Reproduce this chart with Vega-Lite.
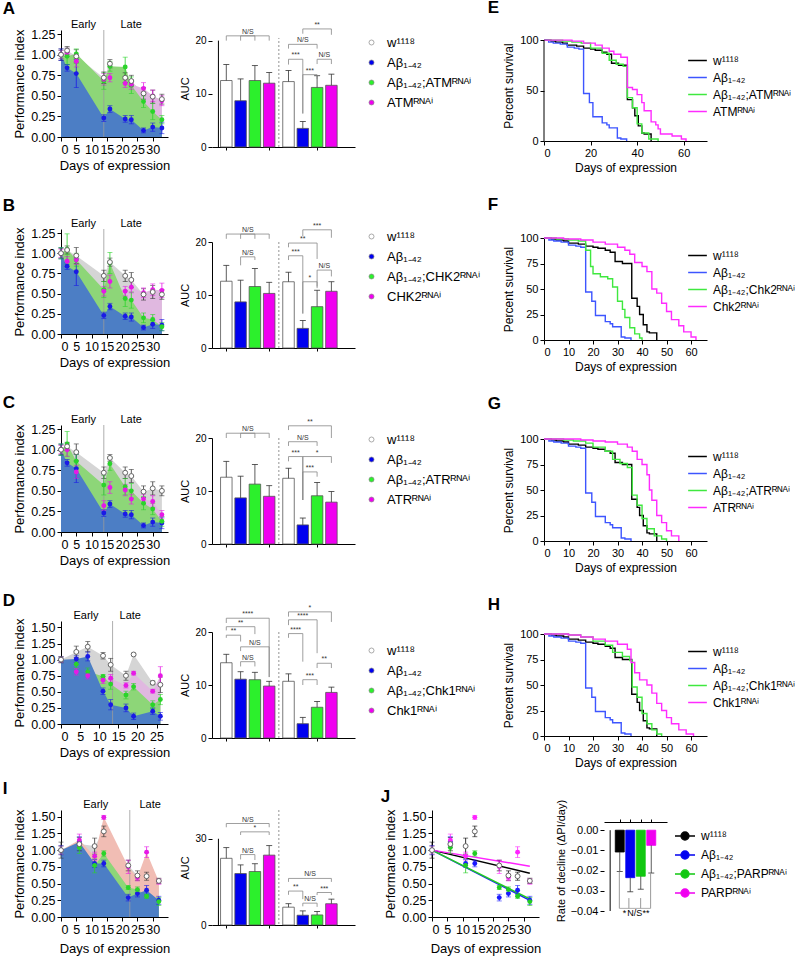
{
"$schema":"https://vega.github.io/schema/vega-lite/v6.json",
"background":"white",
"padding":{"left":2,"top":-1,"right":2,"bottom":2},
"datasets":{
"pi":[
{"p":"A","g":"a","d":0,"v":1,"e":0.07},{"p":"A","g":"a","d":2,"v":1.05,"e":0.05},{"p":"A","g":"a","d":5,"v":0.98,"e":0.08},{"p":"A","g":"a","d":14,"v":0.72,"e":0.07},{"p":"A","g":"a","d":16,"v":0.89,"e":0.05},{"p":"A","g":"a","d":21,"v":0.72,"e":0.06},{"p":"A","g":"a","d":23,"v":0.68,"e":0.07},{"p":"A","g":"a","d":27,"v":0.53,"e":0.07},{"p":"A","g":"a","d":30,"v":0.49,"e":0.08},{"p":"A","g":"a","d":33,"v":0.46,"e":0.06},
{"p":"A","g":"b","d":0,"v":1,"e":0.07},{"p":"A","g":"b","d":2,"v":0.84,"e":0.04},{"p":"A","g":"b","d":5,"v":0.77,"e":0.17},{"p":"A","g":"b","d":14,"v":0.23,"e":0.04},{"p":"A","g":"b","d":16,"v":0.34,"e":0.04},{"p":"A","g":"b","d":21,"v":0.22,"e":0.04},{"p":"A","g":"b","d":23,"v":0.21,"e":0.05},{"p":"A","g":"b","d":27,"v":0.08,"e":0.03},{"p":"A","g":"b","d":30,"v":0.12,"e":0.05},{"p":"A","g":"b","d":33,"v":0.11,"e":0.07},
{"p":"A","g":"c","d":0,"v":1,"e":0.05},{"p":"A","g":"c","d":2,"v":0.98,"e":0.1},{"p":"A","g":"c","d":5,"v":1.01,"e":0.06},{"p":"A","g":"c","d":14,"v":0.68,"e":0.1},{"p":"A","g":"c","d":16,"v":0.86,"e":0.06},{"p":"A","g":"c","d":21,"v":0.85,"e":0.12},{"p":"A","g":"c","d":23,"v":0.63,"e":0.1},{"p":"A","g":"c","d":27,"v":0.43,"e":0.07},{"p":"A","g":"c","d":30,"v":0.31,"e":0.1},{"p":"A","g":"c","d":33,"v":0.21,"e":0.05},
{"p":"A","g":"d","d":0,"v":1,"e":0.05},{"p":"A","g":"d","d":2,"v":1.03,"e":0.05},{"p":"A","g":"d","d":5,"v":0.92,"e":0.07},{"p":"A","g":"d","d":14,"v":0.7,"e":0.07},{"p":"A","g":"d","d":16,"v":0.72,"e":0.05},{"p":"A","g":"d","d":21,"v":0.65,"e":0.05},{"p":"A","g":"d","d":23,"v":0.64,"e":0.06},{"p":"A","g":"d","d":27,"v":0.59,"e":0.07},{"p":"A","g":"d","d":30,"v":0.5,"e":0.07},{"p":"A","g":"d","d":33,"v":0.44,"e":0.06},
{"p":"B","g":"a","d":0,"v":1,"e":0.06},{"p":"B","g":"a","d":2,"v":1.04,"e":0.05},{"p":"B","g":"a","d":5,"v":0.97,"e":0.1},{"p":"B","g":"a","d":14,"v":0.72,"e":0.07},{"p":"B","g":"a","d":16,"v":0.89,"e":0.05},{"p":"B","g":"a","d":21,"v":0.72,"e":0.07},{"p":"B","g":"a","d":23,"v":0.67,"e":0.09},{"p":"B","g":"a","d":27,"v":0.49,"e":0.07},{"p":"B","g":"a","d":30,"v":0.52,"e":0.08},{"p":"B","g":"a","d":33,"v":0.49,"e":0.06},
{"p":"B","g":"b","d":0,"v":1,"e":0.07},{"p":"B","g":"b","d":2,"v":0.84,"e":0.04},{"p":"B","g":"b","d":5,"v":0.77,"e":0.17},{"p":"B","g":"b","d":14,"v":0.23,"e":0.04},{"p":"B","g":"b","d":16,"v":0.34,"e":0.04},{"p":"B","g":"b","d":21,"v":0.22,"e":0.04},{"p":"B","g":"b","d":23,"v":0.21,"e":0.05},{"p":"B","g":"b","d":27,"v":0.08,"e":0.03},{"p":"B","g":"b","d":30,"v":0.12,"e":0.05},{"p":"B","g":"b","d":33,"v":0.11,"e":0.07},
{"p":"B","g":"c","d":0,"v":1,"e":0.07},{"p":"B","g":"c","d":2,"v":1.05,"e":0.19},{"p":"B","g":"c","d":5,"v":0.92,"e":0.08},{"p":"B","g":"c","d":14,"v":0.55,"e":0.1},{"p":"B","g":"c","d":16,"v":0.88,"e":0.13},{"p":"B","g":"c","d":21,"v":0.44,"e":0.1},{"p":"B","g":"c","d":23,"v":0.42,"e":0.1},{"p":"B","g":"c","d":27,"v":0.2,"e":0.06},{"p":"B","g":"c","d":30,"v":0.18,"e":0.06},{"p":"B","g":"c","d":33,"v":0.09,"e":0.05},
{"p":"B","g":"d","d":0,"v":1,"e":0.05},{"p":"B","g":"d","d":2,"v":0.9,"e":0.06},{"p":"B","g":"d","d":5,"v":0.92,"e":0.06},{"p":"B","g":"d","d":14,"v":0.53,"e":0.06},{"p":"B","g":"d","d":16,"v":0.65,"e":0.08},{"p":"B","g":"d","d":21,"v":0.53,"e":0.06},{"p":"B","g":"d","d":23,"v":0.58,"e":0.07},{"p":"B","g":"d","d":27,"v":0.51,"e":0.06},{"p":"B","g":"d","d":30,"v":0.55,"e":0.07},{"p":"B","g":"d","d":33,"v":0.54,"e":0.09},
{"p":"C","g":"a","d":0,"v":1,"e":0.06},{"p":"C","g":"a","d":2,"v":1.04,"e":0.05},{"p":"C","g":"a","d":5,"v":0.97,"e":0.1},{"p":"C","g":"a","d":14,"v":0.72,"e":0.07},{"p":"C","g":"a","d":16,"v":0.9,"e":0.04},{"p":"C","g":"a","d":21,"v":0.72,"e":0.07},{"p":"C","g":"a","d":23,"v":0.68,"e":0.08},{"p":"C","g":"a","d":27,"v":0.49,"e":0.07},{"p":"C","g":"a","d":30,"v":0.53,"e":0.08},{"p":"C","g":"a","d":33,"v":0.5,"e":0.06},
{"p":"C","g":"b","d":0,"v":1,"e":0.07},{"p":"C","g":"b","d":2,"v":0.84,"e":0.04},{"p":"C","g":"b","d":5,"v":0.77,"e":0.17},{"p":"C","g":"b","d":14,"v":0.23,"e":0.04},{"p":"C","g":"b","d":16,"v":0.34,"e":0.04},{"p":"C","g":"b","d":21,"v":0.22,"e":0.04},{"p":"C","g":"b","d":23,"v":0.21,"e":0.05},{"p":"C","g":"b","d":27,"v":0.08,"e":0.03},{"p":"C","g":"b","d":30,"v":0.12,"e":0.05},{"p":"C","g":"b","d":33,"v":0.11,"e":0.07},
{"p":"C","g":"c","d":0,"v":1,"e":0.07},{"p":"C","g":"c","d":2,"v":1.07,"e":0.15},{"p":"C","g":"c","d":5,"v":0.86,"e":0.08},{"p":"C","g":"c","d":14,"v":0.57,"e":0.12},{"p":"C","g":"c","d":16,"v":0.83,"e":0.08},{"p":"C","g":"c","d":21,"v":0.55,"e":0.1},{"p":"C","g":"c","d":23,"v":0.5,"e":0.09},{"p":"C","g":"c","d":27,"v":0.35,"e":0.08},{"p":"C","g":"c","d":30,"v":0.28,"e":0.07},{"p":"C","g":"c","d":33,"v":0.13,"e":0.06},
{"p":"C","g":"d","d":0,"v":1,"e":0.05},{"p":"C","g":"d","d":2,"v":1,"e":0.08},{"p":"C","g":"d","d":5,"v":0.73,"e":0.08},{"p":"C","g":"d","d":14,"v":0.32,"e":0.06},{"p":"C","g":"d","d":16,"v":0.54,"e":0.07},{"p":"C","g":"d","d":21,"v":0.51,"e":0.07},{"p":"C","g":"d","d":23,"v":0.4,"e":0.06},{"p":"C","g":"d","d":27,"v":0.4,"e":0.06},{"p":"C","g":"d","d":30,"v":0.37,"e":0.07},{"p":"C","g":"d","d":33,"v":0.21,"e":0.05},
{"p":"D","g":"a","d":0,"v":1,"e":0.05},{"p":"D","g":"a","d":4,"v":1.12,"e":0.09},{"p":"D","g":"a","d":7,"v":1.2,"e":0.08},{"p":"D","g":"a","d":11,"v":1.06,"e":0.05},{"p":"D","g":"a","d":13,"v":0.92,"e":0.1},{"p":"D","g":"a","d":17,"v":0.75,"e":0.07},{"p":"D","g":"a","d":19,"v":1.08,"e":0.02},{"p":"D","g":"a","d":24,"v":0.64,"e":0.03},{"p":"D","g":"a","d":26,"v":0.61,"e":0.12},
{"p":"D","g":"b","d":0,"v":1,"e":0.04},{"p":"D","g":"b","d":4,"v":1.01,"e":0.05},{"p":"D","g":"b","d":7,"v":1.05,"e":0.07},{"p":"D","g":"b","d":11,"v":0.51,"e":0.05},{"p":"D","g":"b","d":13,"v":0.3,"e":0.08},{"p":"D","g":"b","d":17,"v":0.25,"e":0.06},{"p":"D","g":"b","d":19,"v":0.12,"e":0.05},{"p":"D","g":"b","d":24,"v":0.2,"e":0.05},{"p":"D","g":"b","d":26,"v":0.12,"e":0.06},
{"p":"D","g":"c","d":0,"v":1,"e":0.04},{"p":"D","g":"c","d":4,"v":0.93,"e":0.06},{"p":"D","g":"c","d":7,"v":0.81,"e":0.06},{"p":"D","g":"c","d":11,"v":0.74,"e":0.03},{"p":"D","g":"c","d":13,"v":0.62,"e":0.08},{"p":"D","g":"c","d":17,"v":0.45,"e":0.06},{"p":"D","g":"c","d":19,"v":0.58,"e":0.05},{"p":"D","g":"c","d":24,"v":0.3,"e":0.06},{"p":"D","g":"c","d":26,"v":0.38,"e":0.08},
{"p":"D","g":"d","d":0,"v":1,"e":0.04},{"p":"D","g":"d","d":4,"v":0.81,"e":0.05},{"p":"D","g":"d","d":7,"v":0.75,"e":0.05},{"p":"D","g":"d","d":11,"v":0.68,"e":0.05},{"p":"D","g":"d","d":13,"v":0.71,"e":0.06},{"p":"D","g":"d","d":17,"v":0.6,"e":0.04},{"p":"D","g":"d","d":19,"v":0.79,"e":0.03},{"p":"D","g":"d","d":24,"v":0.51,"e":0.03},{"p":"D","g":"d","d":26,"v":0.75,"e":0.14},
{"p":"I","g":"a","d":0,"v":1,"e":0.12},{"p":"I","g":"a","d":6,"v":1.09,"e":0.1},{"p":"I","g":"a","d":11,"v":1.06,"e":0.12},{"p":"I","g":"a","d":14,"v":1.28,"e":0.08},{"p":"I","g":"a","d":22,"v":0.77,"e":0.08},{"p":"I","g":"a","d":25,"v":0.62,"e":0.07},{"p":"I","g":"a","d":28,"v":0.61,"e":0.06},{"p":"I","g":"a","d":32,"v":0.54,"e":0.04},
{"p":"I","g":"b","d":0,"v":1,"e":0.07},{"p":"I","g":"b","d":6,"v":1.12,"e":0.08},{"p":"I","g":"b","d":11,"v":0.8,"e":0.06},{"p":"I","g":"b","d":14,"v":0.8,"e":0.05},{"p":"I","g":"b","d":22,"v":0.29,"e":0.05},{"p":"I","g":"b","d":25,"v":0.35,"e":0.05},{"p":"I","g":"b","d":28,"v":0.4,"e":0.07},{"p":"I","g":"b","d":32,"v":0.25,"e":0.06},
{"p":"I","g":"c","d":0,"v":1,"e":0.06},{"p":"I","g":"c","d":6,"v":1.04,"e":0.09},{"p":"I","g":"c","d":11,"v":0.77,"e":0.11},{"p":"I","g":"c","d":14,"v":0.95,"e":0.04},{"p":"I","g":"c","d":22,"v":0.44,"e":0.03},{"p":"I","g":"c","d":25,"v":0.41,"e":0.04},{"p":"I","g":"c","d":28,"v":0.31,"e":0.03},{"p":"I","g":"c","d":32,"v":0.23,"e":0.06},
{"p":"I","g":"d","d":0,"v":1,"e":0.06},{"p":"I","g":"d","d":6,"v":1.15,"e":0.09},{"p":"I","g":"d","d":11,"v":0.91,"e":0.06},{"p":"I","g":"d","d":14,"v":1.49,"e":0.03},{"p":"I","g":"d","d":22,"v":0.75,"e":0.1},{"p":"I","g":"d","d":25,"v":0.59,"e":0.05},{"p":"I","g":"d","d":28,"v":0.97,"e":0.08},{"p":"I","g":"d","d":32,"v":0.53,"e":0.04}
],
"auc":[
{"p":"A","g":"a","x":1,"v":12.5,"hi":15.5},{"p":"A","g":"b","x":2,"v":8.7,"hi":12.8},{"p":"A","g":"c","x":3,"v":12.5,"hi":15.3},{"p":"A","g":"d","x":4,"v":12,"hi":14},{"p":"A","g":"a","x":5.35,"v":12.3,"hi":14.4},{"p":"A","g":"b","x":6.35,"v":3.5,"hi":4.8},{"p":"A","g":"c","x":7.35,"v":11.2,"hi":13.4},{"p":"A","g":"d","x":8.35,"v":11.6,"hi":13.7},
{"p":"B","g":"a","x":1,"v":12.6,"hi":15.6},{"p":"B","g":"b","x":2,"v":8.7,"hi":12.8},{"p":"B","g":"c","x":3,"v":11.6,"hi":15},{"p":"B","g":"d","x":4,"v":10.3,"hi":12.4},{"p":"B","g":"a","x":5.35,"v":12.5,"hi":14.3},{"p":"B","g":"b","x":6.35,"v":3.7,"hi":5.2},{"p":"B","g":"c","x":7.35,"v":7.8,"hi":10.9},{"p":"B","g":"d","x":8.35,"v":10.7,"hi":12.5},
{"p":"C","g":"a","x":1,"v":12.6,"hi":15.6},{"p":"C","g":"b","x":2,"v":8.7,"hi":12.8},{"p":"C","g":"c","x":3,"v":11.3,"hi":15},{"p":"C","g":"d","x":4,"v":9,"hi":11},{"p":"C","g":"a","x":5.35,"v":12.4,"hi":14.3},{"p":"C","g":"b","x":6.35,"v":3.6,"hi":4.9},{"p":"C","g":"c","x":7.35,"v":9.1,"hi":11.6},{"p":"C","g":"d","x":8.35,"v":7.9,"hi":9.9},
{"p":"D","g":"a","x":1,"v":14.2,"hi":15.8},{"p":"D","g":"b","x":2,"v":11.1,"hi":12.5},{"p":"D","g":"c","x":3,"v":11,"hi":12.4},{"p":"D","g":"d","x":4,"v":9.8,"hi":10.7},{"p":"D","g":"a","x":5.35,"v":10.7,"hi":12.1},{"p":"D","g":"b","x":6.35,"v":2.7,"hi":3.9},{"p":"D","g":"c","x":7.35,"v":5.8,"hi":6.9},{"p":"D","g":"d","x":8.35,"v":8.6,"hi":9.6},
{"p":"I","g":"a","x":1,"v":23.2,"hi":26.9},{"p":"I","g":"b","x":2,"v":17.9,"hi":20.9},{"p":"I","g":"c","x":3,"v":18.6,"hi":21.3},{"p":"I","g":"d","x":4,"v":24.3,"hi":27.6},{"p":"I","g":"a","x":5.35,"v":6.2,"hi":7.4},{"p":"I","g":"b","x":6.35,"v":3.4,"hi":4.9},{"p":"I","g":"c","x":7.35,"v":3.5,"hi":4.7},{"p":"I","g":"d","x":8.35,"v":7.4,"hi":9}
],
"br":[
{"p":"A","x1":1,"x2":4,"xm":2.5,"y":20.9,"l1":20,"l2":20,"t":"N/S"},{"p":"A","x1":2,"x2":3,"xm":2.5,"y":20.9,"l1":20,"l2":20,"t":""},{"p":"A","x1":6.35,"x2":8.35,"xm":7.35,"y":22.2,"l1":21.3,"l2":21.1,"t":"**"},{"p":"A","x1":5.35,"x2":7.35,"xm":6.35,"y":19.3,"l1":18.5,"l2":18.5,"t":"N/S"},{"p":"A","x1":5.35,"x2":6.35,"xm":5.85,"y":16.5,"l1":15.5,"l2":6.3,"t":"***"},{"p":"A","x1":7.35,"x2":8.35,"xm":7.85,"y":16.5,"l1":15.6,"l2":15.6,"t":"N/S"},{"p":"A","x1":6.35,"x2":7.35,"xm":6.85,"y":13.6,"l1":6.3,"l2":12.8,"t":"***"},
{"p":"B","x1":1,"x2":4,"xm":2.5,"y":21.5,"l1":20.6,"l2":20.6,"t":"N/S"},{"p":"B","x1":2,"x2":3,"xm":2.5,"y":21.5,"l1":20.6,"l2":20.6,"t":""},{"p":"B","x1":2,"x2":3,"xm":2.5,"y":17.2,"l1":15.6,"l2":16.6,"t":"N/S"},{"p":"B","x1":6.35,"x2":8.35,"xm":7.35,"y":22.3,"l1":21.1,"l2":20.8,"t":"***"},{"p":"B","x1":5.35,"x2":7.35,"xm":6.35,"y":19.8,"l1":19,"l2":16.8,"t":"**"},{"p":"B","x1":5.35,"x2":6.35,"xm":5.85,"y":17.4,"l1":16.6,"l2":6.5,"t":"***"},{"p":"B","x1":6.35,"x2":7.35,"xm":6.85,"y":12.5,"l1":6.5,"l2":11.6,"t":"*"},{"p":"B","x1":7.35,"x2":8.35,"xm":7.85,"y":14.7,"l1":11.3,"l2":13.5,"t":"N/S"},
{"p":"C","x1":1,"x2":4,"xm":2.5,"y":20.9,"l1":20,"l2":20,"t":"N/S"},{"p":"C","x1":2,"x2":3,"xm":2.5,"y":20.9,"l1":20,"l2":20,"t":""},{"p":"C","x1":5.35,"x2":8.35,"xm":6.85,"y":22.3,"l1":21.5,"l2":20,"t":"**"},{"p":"C","x1":5.35,"x2":7.35,"xm":6.35,"y":19.3,"l1":18.5,"l2":18.5,"t":"N/S"},{"p":"C","x1":5.35,"x2":6.35,"xm":5.85,"y":16.5,"l1":15.6,"l2":8.3,"t":"***"},{"p":"C","x1":6.35,"x2":8.35,"xm":7.35,"y":16.5,"l1":8.3,"l2":15.3,"t":"*"},{"p":"C","x1":6.35,"x2":7.35,"xm":6.85,"y":13.6,"l1":8.3,"l2":12.7,"t":"***"},
{"p":"D","x1":1,"x2":4,"xm":2.5,"y":22.6,"l1":21.7,"l2":11.5,"t":"****"},{"p":"D","x1":1,"x2":3,"xm":2,"y":21,"l1":20.3,"l2":19.6,"t":"**"},{"p":"D","x1":1,"x2":2,"xm":1.5,"y":19.4,"l1":18.9,"l2":18.2,"t":"**"},{"p":"D","x1":2,"x2":4,"xm":3,"y":17.2,"l1":16.4,"l2":11.5,"t":"N/S"},{"p":"D","x1":2,"x2":3,"xm":2.5,"y":14.4,"l1":13.5,"l2":13.5,"t":"N/S"},{"p":"D","x1":5.35,"x2":8.35,"xm":6.85,"y":23.8,"l1":22.9,"l2":21.9,"t":"*"},{"p":"D","x1":5.35,"x2":7.35,"xm":6.35,"y":22.3,"l1":21.3,"l2":16,"t":"****"},{"p":"D","x1":5.35,"x2":6.35,"xm":5.85,"y":19.7,"l1":18.9,"l2":14.4,"t":"****"},{"p":"D","x1":7.35,"x2":8.35,"xm":7.85,"y":14.1,"l1":13.2,"l2":13.2,"t":"**"},{"p":"D","x1":6.35,"x2":7.35,"xm":6.85,"y":11,"l1":10,"l2":10,"t":"***"},
{"p":"I","x1":1,"x2":4,"xm":2.5,"y":35.3,"l1":34,"l2":34,"t":"N/S"},{"p":"I","x1":2,"x2":4,"xm":3,"y":32.4,"l1":31.3,"l2":31.3,"t":"*"},{"p":"I","x1":2,"x2":3,"xm":2.5,"y":24.5,"l1":22.8,"l2":22.6,"t":"N/S"},{"p":"I","x1":5.35,"x2":8.35,"xm":6.85,"y":16.2,"l1":15,"l2":15,"t":"N/S"},{"p":"I","x1":5.35,"x2":6.35,"xm":5.85,"y":11.8,"l1":10.5,"l2":9,"t":"**"},{"p":"I","x1":6.35,"x2":7.35,"xm":6.85,"y":7.6,"l1":6.5,"l2":6.3,"t":"N/S"},{"p":"I","x1":7.35,"x2":8.35,"xm":7.85,"y":11.3,"l1":10.4,"l2":10.4,"t":"***"}
],
"sv":[
{"p":"ctl","g":"a","d":0,"s":100},{"p":"ctl","g":"a","d":3,"s":99},{"p":"ctl","g":"a","d":5,"s":98},{"p":"ctl","g":"a","d":8,"s":97},{"p":"ctl","g":"a","d":10,"s":95},{"p":"ctl","g":"a","d":14,"s":94},{"p":"ctl","g":"a","d":17,"s":92},{"p":"ctl","g":"a","d":20,"s":91},{"p":"ctl","g":"a","d":22,"s":90},{"p":"ctl","g":"a","d":25,"s":88},{"p":"ctl","g":"a","d":27,"s":86},{"p":"ctl","g":"a","d":29,"s":77},{"p":"ctl","g":"a","d":32,"s":75},{"p":"ctl","g":"a","d":35.8,"s":41},{"p":"ctl","g":"a","d":38,"s":33},{"p":"ctl","g":"a","d":39,"s":25},{"p":"ctl","g":"a","d":40.5,"s":15},{"p":"ctl","g":"a","d":42,"s":8},{"p":"ctl","g":"a","d":43,"s":7},{"p":"ctl","g":"a","d":46,"s":0},
{"p":"ctl","g":"b","d":0,"s":100},{"p":"ctl","g":"b","d":2,"s":98},{"p":"ctl","g":"b","d":4,"s":97},{"p":"ctl","g":"b","d":7,"s":96},{"p":"ctl","g":"b","d":10,"s":93},{"p":"ctl","g":"b","d":13,"s":92},{"p":"ctl","g":"b","d":15,"s":91},{"p":"ctl","g":"b","d":17,"s":47},{"p":"ctl","g":"b","d":19.5,"s":38},{"p":"ctl","g":"b","d":21,"s":24},{"p":"ctl","g":"b","d":25,"s":18},{"p":"ctl","g":"b","d":27,"s":16},{"p":"ctl","g":"b","d":28,"s":13},{"p":"ctl","g":"b","d":31.5,"s":3},{"p":"ctl","g":"b","d":33,"s":2},{"p":"ctl","g":"b","d":35.5,"s":0},
{"p":"E","g":"c","d":0,"s":100},{"p":"E","g":"c","d":8,"s":99},{"p":"E","g":"c","d":12,"s":98},{"p":"E","g":"c","d":16,"s":97},{"p":"E","g":"c","d":20,"s":92},{"p":"E","g":"c","d":25,"s":87},{"p":"E","g":"c","d":28,"s":80},{"p":"E","g":"c","d":31,"s":76},{"p":"E","g":"c","d":34,"s":74},{"p":"E","g":"c","d":35.8,"s":43},{"p":"E","g":"c","d":38,"s":33},{"p":"E","g":"c","d":40,"s":17},{"p":"E","g":"c","d":42,"s":8},{"p":"E","g":"c","d":45,"s":2},{"p":"E","g":"c","d":49,"s":0},
{"p":"E","g":"d","d":0,"s":100},{"p":"E","g":"d","d":12,"s":99},{"p":"E","g":"d","d":17,"s":97},{"p":"E","g":"d","d":22,"s":95},{"p":"E","g":"d","d":25,"s":92},{"p":"E","g":"d","d":28,"s":89},{"p":"E","g":"d","d":30,"s":86},{"p":"E","g":"d","d":33,"s":83},{"p":"E","g":"d","d":35.8,"s":53},{"p":"E","g":"d","d":38,"s":51},{"p":"E","g":"d","d":40,"s":46},{"p":"E","g":"d","d":42,"s":38},{"p":"E","g":"d","d":43,"s":30},{"p":"E","g":"d","d":46,"s":19},{"p":"E","g":"d","d":48,"s":16},{"p":"E","g":"d","d":49,"s":12},{"p":"E","g":"d","d":50,"s":7},{"p":"E","g":"d","d":55,"s":5},{"p":"E","g":"d","d":59,"s":2},{"p":"E","g":"d","d":61,"s":0},
{"p":"F","g":"c","d":0,"s":100},{"p":"F","g":"c","d":5,"s":99},{"p":"F","g":"c","d":10,"s":98},{"p":"F","g":"c","d":14,"s":97},{"p":"F","g":"c","d":17,"s":88},{"p":"F","g":"c","d":19,"s":72},{"p":"F","g":"c","d":20,"s":65},{"p":"F","g":"c","d":23,"s":62},{"p":"F","g":"c","d":26,"s":60},{"p":"F","g":"c","d":28,"s":52},{"p":"F","g":"c","d":30,"s":38},{"p":"F","g":"c","d":32,"s":30},{"p":"F","g":"c","d":33,"s":22},{"p":"F","g":"c","d":35,"s":12},{"p":"F","g":"c","d":37,"s":6},{"p":"F","g":"c","d":39,"s":2},{"p":"F","g":"c","d":40,"s":0},
{"p":"F","g":"d","d":0,"s":100},{"p":"F","g":"d","d":8,"s":99},{"p":"F","g":"d","d":15,"s":98},{"p":"F","g":"d","d":20,"s":96},{"p":"F","g":"d","d":25,"s":94},{"p":"F","g":"d","d":30,"s":91},{"p":"F","g":"d","d":33,"s":88},{"p":"F","g":"d","d":35,"s":84},{"p":"F","g":"d","d":37,"s":76},{"p":"F","g":"d","d":40,"s":72},{"p":"F","g":"d","d":42,"s":67},{"p":"F","g":"d","d":44,"s":50},{"p":"F","g":"d","d":46,"s":46},{"p":"F","g":"d","d":48,"s":36},{"p":"F","g":"d","d":50,"s":28},{"p":"F","g":"d","d":52,"s":20},{"p":"F","g":"d","d":55,"s":14},{"p":"F","g":"d","d":57,"s":8},{"p":"F","g":"d","d":60,"s":3},{"p":"F","g":"d","d":62,"s":0},
{"p":"G","g":"c","d":0,"s":100},{"p":"G","g":"c","d":8,"s":99},{"p":"G","g":"c","d":12,"s":98},{"p":"G","g":"c","d":17,"s":96},{"p":"G","g":"c","d":20,"s":92},{"p":"G","g":"c","d":25,"s":88},{"p":"G","g":"c","d":28,"s":80},{"p":"G","g":"c","d":31,"s":76},{"p":"G","g":"c","d":34,"s":72},{"p":"G","g":"c","d":36,"s":45},{"p":"G","g":"c","d":38,"s":35},{"p":"G","g":"c","d":40,"s":22},{"p":"G","g":"c","d":42,"s":12},{"p":"G","g":"c","d":45,"s":5},{"p":"G","g":"c","d":48,"s":2},{"p":"G","g":"c","d":50,"s":0},
{"p":"G","g":"d","d":0,"s":100},{"p":"G","g":"d","d":15,"s":99},{"p":"G","g":"d","d":20,"s":98},{"p":"G","g":"d","d":25,"s":97},{"p":"G","g":"d","d":30,"s":95},{"p":"G","g":"d","d":34,"s":92},{"p":"G","g":"d","d":36,"s":88},{"p":"G","g":"d","d":38,"s":80},{"p":"G","g":"d","d":40,"s":75},{"p":"G","g":"d","d":42,"s":65},{"p":"G","g":"d","d":43,"s":50},{"p":"G","g":"d","d":44,"s":40},{"p":"G","g":"d","d":46,"s":25},{"p":"G","g":"d","d":48,"s":18},{"p":"G","g":"d","d":50,"s":10},{"p":"G","g":"d","d":52,"s":5},{"p":"G","g":"d","d":55,"s":0},
{"p":"H","g":"c","d":0,"s":100},{"p":"H","g":"c","d":10,"s":99},{"p":"H","g":"c","d":15,"s":97},{"p":"H","g":"c","d":20,"s":93},{"p":"H","g":"c","d":25,"s":89},{"p":"H","g":"c","d":28,"s":82},{"p":"H","g":"c","d":32,"s":78},{"p":"H","g":"c","d":35,"s":74},{"p":"H","g":"c","d":36,"s":48},{"p":"H","g":"c","d":38,"s":38},{"p":"H","g":"c","d":40,"s":22},{"p":"H","g":"c","d":42,"s":12},{"p":"H","g":"c","d":44,"s":6},{"p":"H","g":"c","d":46,"s":2},{"p":"H","g":"c","d":48,"s":0},
{"p":"H","g":"d","d":0,"s":100},{"p":"H","g":"d","d":10,"s":99},{"p":"H","g":"d","d":15,"s":97},{"p":"H","g":"d","d":20,"s":95},{"p":"H","g":"d","d":25,"s":93},{"p":"H","g":"d","d":30,"s":90},{"p":"H","g":"d","d":34,"s":85},{"p":"H","g":"d","d":35.5,"s":72},{"p":"H","g":"d","d":37,"s":62},{"p":"H","g":"d","d":39,"s":55},{"p":"H","g":"d","d":42,"s":50},{"p":"H","g":"d","d":44,"s":42},{"p":"H","g":"d","d":46,"s":32},{"p":"H","g":"d","d":48,"s":25},{"p":"H","g":"d","d":50,"s":18},{"p":"H","g":"d","d":52,"s":12},{"p":"H","g":"d","d":55,"s":6},{"p":"H","g":"d","d":58,"s":2},{"p":"H","g":"d","d":61,"s":0}
],
"reg":[{"g":"a","d":0,"v":1},{"g":"a","d":32,"v":0.655},{"g":"b","d":0,"v":1},{"g":"b","d":32,"v":0.248},{"g":"c","d":0,"v":1},{"g":"c","d":32,"v":0.27},{"g":"d","d":0,"v":1},{"g":"d","d":32,"v":0.76}],
"rate":[{"g":"a","x":1,"v":-0.0108,"lo":-0.0205},{"g":"b","x":2,"v":-0.0235,"lo":-0.0305},{"g":"c","x":3,"v":-0.0228,"lo":-0.0292},{"g":"d","x":4,"v":-0.0075,"lo":-0.0212}]
},
"resolve":{"scale":{"color":"independent","fill":"independent","stroke":"independent"}},
"vconcat":[
{"resolve":{"scale":{"color":"independent","fill":"independent","stroke":"independent"}},"hconcat":[
 {"resolve":{"scale":{"color":"independent","fill":"independent","stroke":"independent"}},"hconcat":[
  {"resolve":{"scale":{"color":"independent","fill":"independent","stroke":"independent"}},"vconcat":[
   {"width":107,"height":107,"title":{"text":"A","offset":0,"dx":-11},"data":{"name":"pi"},"resolve":{"axis":{"x":"independent","y":"independent"}},"layer":[
    {"transform":[{"filter":"datum.p==='A'&&datum.g==='a'"}],"mark":{"type":"area","color":"#d5d5d5","opacity":1},"encoding":{"x":{"field":"d","type":"quantitative","scale":{"domain":[0,33.5]},"axis":{"values":[0,5,10,15,20,25,30],"title":"Days of expression","labelOverlap":false}},"y":{"field":"v","type":"quantitative","scale":{"domain":[0,1.25]},"axis":{"values":[0,0.25,0.5,0.75,1,1.25],"format":".2f","title":"Performance index","labelOverlap":false}}}},
    {"transform":[{"filter":"datum.p==='A'&&datum.g==='d'"}],"mark":{"type":"area","color":"#e0b8e0","opacity":1},"encoding":{"x":{"field":"d","type":"quantitative","axis":null},"y":{"field":"v","type":"quantitative","axis":null}}},
    {"transform":[{"filter":"datum.p==='A'&&datum.g==='c'"}],"mark":{"type":"area","color":"#8dd678","opacity":1},"encoding":{"x":{"field":"d","type":"quantitative","axis":null},"y":{"field":"v","type":"quantitative","axis":null}}},
    {"transform":[{"filter":"datum.p==='A'&&datum.g==='b'"}],"mark":{"type":"area","color":"#4c7ec5","opacity":1},"encoding":{"x":{"field":"d","type":"quantitative","axis":null},"y":{"field":"v","type":"quantitative","axis":null}}},
    {"data":{"values":[{"d":14}]},"mark":{"type":"rule","color":"#9a9a9a","strokeWidth":0.8},"encoding":{"x":{"field":"d","type":"quantitative","axis":{"orient":"top","values":[7.2,22.8],"labelExpr":"datum.value<14?'Early':'Late'","domain":false,"ticks":false,"title":null,"labelFontSize":11,"labelPadding":1}}}},
    {"transform":[{"filter":"datum.p==='A'"}],"mark":{"type":"errorbar","ticks":true,"thickness":0.8},"encoding":{"x":{"field":"d","type":"quantitative","axis":null},"y":{"field":"v","type":"quantitative","axis":null},"yError":{"field":"e"},"color":{"field":"g","type":"nominal","scale":{"domain":["a","b","c","d"],"range":["#333333","#1a1ae6","#2ad42a","#e619e6"]},"legend":null}}},
    {"transform":[{"filter":"datum.p==='A'&&datum.g!=='a'"}],"mark":{"type":"point","filled":true,"size":24,"opacity":1},"encoding":{"x":{"field":"d","type":"quantitative","axis":null},"y":{"field":"v","type":"quantitative","axis":null},"color":{"field":"g","type":"nominal","legend":null}}},
    {"transform":[{"filter":"datum.p==='A'&&datum.g==='a'"}],"mark":{"type":"point","filled":true,"fill":"#ffffff","stroke":"#666666","strokeWidth":1,"size":24,"opacity":1},"encoding":{"x":{"field":"d","type":"quantitative","axis":null},"y":{"field":"v","type":"quantitative","axis":null}}}
   ]},
   {"width":107,"height":105,"title":{"text":"B","offset":2,"dx":-11},"data":{"name":"pi"},"resolve":{"axis":{"x":"independent","y":"independent"}},"layer":[
    {"transform":[{"filter":"datum.p==='B'&&datum.g==='a'"}],"mark":{"type":"area","color":"#d5d5d5","opacity":1},"encoding":{"x":{"field":"d","type":"quantitative","scale":{"domain":[0,33.5]},"axis":{"values":[0,5,10,15,20,25,30],"title":"Days of expression","labelOverlap":false}},"y":{"field":"v","type":"quantitative","scale":{"domain":[0,1.25]},"axis":{"values":[0,0.25,0.5,0.75,1,1.25],"format":".2f","title":"Performance index","labelOverlap":false}}}},
    {"transform":[{"filter":"datum.p==='B'&&datum.g==='d'"}],"mark":{"type":"area","color":"#e0b8e0","opacity":1},"encoding":{"x":{"field":"d","type":"quantitative","axis":null},"y":{"field":"v","type":"quantitative","axis":null}}},
    {"transform":[{"filter":"datum.p==='B'&&datum.g==='c'"}],"mark":{"type":"area","color":"#8dd678","opacity":1},"encoding":{"x":{"field":"d","type":"quantitative","axis":null},"y":{"field":"v","type":"quantitative","axis":null}}},
    {"transform":[{"filter":"datum.p==='B'&&datum.g==='b'"}],"mark":{"type":"area","color":"#4c7ec5","opacity":1},"encoding":{"x":{"field":"d","type":"quantitative","axis":null},"y":{"field":"v","type":"quantitative","axis":null}}},
    {"data":{"values":[{"d":14}]},"mark":{"type":"rule","color":"#9a9a9a","strokeWidth":0.8},"encoding":{"x":{"field":"d","type":"quantitative","axis":{"orient":"top","values":[7.2,22.8],"labelExpr":"datum.value<14?'Early':'Late'","domain":false,"ticks":false,"title":null,"labelFontSize":11,"labelPadding":1}}}},
    {"transform":[{"filter":"datum.p==='B'"}],"mark":{"type":"errorbar","ticks":true,"thickness":0.8},"encoding":{"x":{"field":"d","type":"quantitative","axis":null},"y":{"field":"v","type":"quantitative","axis":null},"yError":{"field":"e"},"color":{"field":"g","type":"nominal","scale":{"domain":["a","b","c","d"],"range":["#333333","#1a1ae6","#2ad42a","#e619e6"]},"legend":null}}},
    {"transform":[{"filter":"datum.p==='B'&&datum.g!=='a'"}],"mark":{"type":"point","filled":true,"size":24,"opacity":1},"encoding":{"x":{"field":"d","type":"quantitative","axis":null},"y":{"field":"v","type":"quantitative","axis":null},"color":{"field":"g","type":"nominal","legend":null}}},
    {"transform":[{"filter":"datum.p==='B'&&datum.g==='a'"}],"mark":{"type":"point","filled":true,"fill":"#ffffff","stroke":"#666666","strokeWidth":1,"size":24,"opacity":1},"encoding":{"x":{"field":"d","type":"quantitative","axis":null},"y":{"field":"v","type":"quantitative","axis":null}}}
   ]},
   {"width":107,"height":107,"title":{"text":"C","offset":1,"dx":-11},"data":{"name":"pi"},"resolve":{"axis":{"x":"independent","y":"independent"}},"layer":[
    {"transform":[{"filter":"datum.p==='C'&&datum.g==='a'"}],"mark":{"type":"area","color":"#d5d5d5","opacity":1},"encoding":{"x":{"field":"d","type":"quantitative","scale":{"domain":[0,33.5]},"axis":{"values":[0,5,10,15,20,25,30],"title":"Days of expression","labelOverlap":false}},"y":{"field":"v","type":"quantitative","scale":{"domain":[0,1.25]},"axis":{"values":[0,0.25,0.5,0.75,1,1.25],"format":".2f","title":"Performance index","labelOverlap":false}}}},
    {"transform":[{"filter":"datum.p==='C'&&datum.g==='d'"}],"mark":{"type":"area","color":"#e0b8e0","opacity":1},"encoding":{"x":{"field":"d","type":"quantitative","axis":null},"y":{"field":"v","type":"quantitative","axis":null}}},
    {"transform":[{"filter":"datum.p==='C'&&datum.g==='c'"}],"mark":{"type":"area","color":"#8dd678","opacity":1},"encoding":{"x":{"field":"d","type":"quantitative","axis":null},"y":{"field":"v","type":"quantitative","axis":null}}},
    {"transform":[{"filter":"datum.p==='C'&&datum.g==='b'"}],"mark":{"type":"area","color":"#4c7ec5","opacity":1},"encoding":{"x":{"field":"d","type":"quantitative","axis":null},"y":{"field":"v","type":"quantitative","axis":null}}},
    {"data":{"values":[{"d":14}]},"mark":{"type":"rule","color":"#9a9a9a","strokeWidth":0.8},"encoding":{"x":{"field":"d","type":"quantitative","axis":{"orient":"top","values":[7.2,22.8],"labelExpr":"datum.value<14?'Early':'Late'","domain":false,"ticks":false,"title":null,"labelFontSize":11,"labelPadding":1}}}},
    {"transform":[{"filter":"datum.p==='C'"}],"mark":{"type":"errorbar","ticks":true,"thickness":0.8},"encoding":{"x":{"field":"d","type":"quantitative","axis":null},"y":{"field":"v","type":"quantitative","axis":null},"yError":{"field":"e"},"color":{"field":"g","type":"nominal","scale":{"domain":["a","b","c","d"],"range":["#333333","#1a1ae6","#2ad42a","#e619e6"]},"legend":null}}},
    {"transform":[{"filter":"datum.p==='C'&&datum.g!=='a'"}],"mark":{"type":"point","filled":true,"size":24,"opacity":1},"encoding":{"x":{"field":"d","type":"quantitative","axis":null},"y":{"field":"v","type":"quantitative","axis":null},"color":{"field":"g","type":"nominal","legend":null}}},
    {"transform":[{"filter":"datum.p==='C'&&datum.g==='a'"}],"mark":{"type":"point","filled":true,"fill":"#ffffff","stroke":"#666666","strokeWidth":1,"size":24,"opacity":1},"encoding":{"x":{"field":"d","type":"quantitative","axis":null},"y":{"field":"v","type":"quantitative","axis":null}}}
   ]},
   {"width":107,"height":103,"title":{"text":"D","offset":-1,"dx":-11},"data":{"name":"pi"},"resolve":{"axis":{"x":"independent","y":"independent"}},"layer":[
    {"transform":[{"filter":"datum.p==='D'&&datum.g==='a'"}],"mark":{"type":"area","color":"#d5d5d5","opacity":1},"encoding":{"x":{"field":"d","type":"quantitative","scale":{"domain":[0,26.5]},"axis":{"values":[0,5,10,15,20,25],"title":"Days of expression","labelOverlap":false}},"y":{"field":"v","type":"quantitative","scale":{"domain":[0,1.5]},"axis":{"values":[0,0.25,0.5,0.75,1,1.25,1.5],"format":".2f","title":"Performance index","labelOverlap":false}}}},
    {"transform":[{"filter":"datum.p==='D'&&datum.g==='d'"}],"mark":{"type":"area","color":"#e0b8e0","opacity":1},"encoding":{"x":{"field":"d","type":"quantitative","axis":null},"y":{"field":"v","type":"quantitative","axis":null}}},
    {"transform":[{"filter":"datum.p==='D'&&datum.g==='c'"}],"mark":{"type":"area","color":"#8dd678","opacity":1},"encoding":{"x":{"field":"d","type":"quantitative","axis":null},"y":{"field":"v","type":"quantitative","axis":null}}},
    {"transform":[{"filter":"datum.p==='D'&&datum.g==='b'"}],"mark":{"type":"area","color":"#4c7ec5","opacity":1},"encoding":{"x":{"field":"d","type":"quantitative","axis":null},"y":{"field":"v","type":"quantitative","axis":null}}},
    {"data":{"values":[{"d":13.5}]},"mark":{"type":"rule","color":"#9a9a9a","strokeWidth":0.8},"encoding":{"x":{"field":"d","type":"quantitative","axis":{"orient":"top","values":[6.4,18],"labelExpr":"datum.value<13?'Early':'Late'","domain":false,"ticks":false,"title":null,"labelFontSize":11,"labelPadding":1}}}},
    {"transform":[{"filter":"datum.p==='D'"}],"mark":{"type":"errorbar","ticks":true,"thickness":0.8},"encoding":{"x":{"field":"d","type":"quantitative","axis":null},"y":{"field":"v","type":"quantitative","axis":null},"yError":{"field":"e"},"color":{"field":"g","type":"nominal","scale":{"domain":["a","b","c","d"],"range":["#333333","#1a1ae6","#2ad42a","#e619e6"]},"legend":null}}},
    {"transform":[{"filter":"datum.p==='D'&&datum.g!=='a'"}],"mark":{"type":"point","filled":true,"size":24,"opacity":1},"encoding":{"x":{"field":"d","type":"quantitative","axis":null},"y":{"field":"v","type":"quantitative","axis":null},"color":{"field":"g","type":"nominal","legend":null}}},
    {"transform":[{"filter":"datum.p==='D'&&datum.g==='a'"}],"mark":{"type":"point","filled":true,"fill":"#ffffff","stroke":"#666666","strokeWidth":1,"size":24,"opacity":1},"encoding":{"x":{"field":"d","type":"quantitative","axis":null},"y":{"field":"v","type":"quantitative","axis":null}}}
   ]}
  ],"spacing":24},
  {"resolve":{"scale":{"color":"independent","fill":"independent","stroke":"independent"}},"vconcat":[
   {"width":143,"height":117,"layer":[
    {"data":{"name":"auc"},"transform":[{"filter":"datum.p==='A'"}],"mark":{"type":"bar","width":11.5,"stroke":"#555555","strokeWidth":0.8,"opacity":1},"encoding":{"x":{"field":"x","type":"quantitative","scale":{"domain":[0.45,9.05]},"axis":{"values":[1,2,2.5,3,4,5.35,6.35,6.85,7.35,8.35],"labelExpr":"datum.value===2.5?'Early':datum.value===6.85?'Late':''","labelOverlap":false,"tickOpacity":{"condition":{"test":"datum.value===2.5||datum.value===6.85","value":0},"value":1},"title":null,"labelFontSize":11,"tickSize":3,"labelPadding":1}},"y":{"field":"v","type":"quantitative","scale":{"domain":[0,21.87]},"axis":{"values":[0,5,10,15,20],"title":"AUC","labelFontSize":10,"titleFontSize":11,"domain":false}},"fill":{"field":"g","type":"nominal","scale":{"domain":["a","b","c","d"],"range":["#ffffff","#0000f0","#2cf02c","#f000f0"]},"legend":{"orient":"none","legendX":153,"legendY":6,"title":null,"symbolType":"circle","symbolSize":25,"symbolStrokeColor":"#888888","symbolStrokeWidth":0.7,"labelFontSize":13,"rowPadding":6,"labelOffset":9,"labelExpr":"datum.value==='a'?'w¹¹¹⁸':datum.value==='b'?'Aβ₁₋₄₂':datum.value==='c'?'Aβ₁₋₄₂;ATMᴿᴺᴬⁱ':'ATMᴿᴺᴬⁱ'"}}}},
    {"data":{"values":[{"x":0.45,"y":0,"y2":20}]},"mark":{"type":"rule","color":"#000000","strokeWidth":1},"encoding":{"x":{"field":"x","type":"quantitative"},"y":{"field":"y","type":"quantitative"},"y2":{"field":"y2"}}},
    {"data":{"name":"auc"},"transform":[{"filter":"datum.p==='A'"}],"mark":{"type":"rule","color":"#333333","strokeWidth":0.8},"encoding":{"x":{"field":"x","type":"quantitative"},"y":{"field":"v","type":"quantitative"},"y2":{"field":"hi"}}},
    {"data":{"name":"auc"},"transform":[{"filter":"datum.p==='A'"}],"mark":{"type":"tick","orient":"horizontal","size":6,"thickness":0.8,"color":"#333333","opacity":1},"encoding":{"x":{"field":"x","type":"quantitative"},"y":{"field":"hi","type":"quantitative"}}},
    {"data":{"name":"br"},"transform":[{"filter":"datum.p==='A'"}],"mark":{"type":"rule","color":"#888888","strokeWidth":0.8},"encoding":{"x":{"field":"x1","type":"quantitative"},"x2":{"field":"x2"},"y":{"field":"y","type":"quantitative"}}},
    {"data":{"name":"br"},"transform":[{"filter":"datum.p==='A'"}],"mark":{"type":"rule","color":"#888888","strokeWidth":0.8},"encoding":{"x":{"field":"x1","type":"quantitative"},"y":{"field":"l1","type":"quantitative"},"y2":{"field":"y"}}},
    {"data":{"name":"br"},"transform":[{"filter":"datum.p==='A'"}],"mark":{"type":"rule","color":"#888888","strokeWidth":0.8},"encoding":{"x":{"field":"x2","type":"quantitative"},"y":{"field":"l2","type":"quantitative"},"y2":{"field":"y"}}},
    {"data":{"name":"br"},"transform":[{"filter":"datum.p==='A'"}],"mark":{"type":"text","fontSize":7,"dy":-4,"color":"#333333"},"encoding":{"x":{"field":"xm","type":"quantitative"},"y":{"field":"y","type":"quantitative"},"text":{"field":"t"}}},
    {"data":{"values":[{"x":4.675,"y":0,"y2":20.5}]},"mark":{"type":"rule","color":"#777777","strokeDash":[2,2],"strokeWidth":0.8},"encoding":{"x":{"field":"x","type":"quantitative"},"y":{"field":"y","type":"quantitative"},"y2":{"field":"y2"}}}
   ]},
   {"width":143,"height":106,"title":{"text":"B","color":"transparent","offset":11},"layer":[
    {"data":{"name":"auc"},"transform":[{"filter":"datum.p==='B'"}],"mark":{"type":"bar","width":11.5,"stroke":"#555555","strokeWidth":0.8,"opacity":1},"encoding":{"x":{"field":"x","type":"quantitative","scale":{"domain":[0.45,9.05]},"axis":{"values":[1,2,2.5,3,4,5.35,6.35,6.85,7.35,8.35],"labelExpr":"datum.value===2.5?'Early':datum.value===6.85?'Late':''","labelOverlap":false,"tickOpacity":{"condition":{"test":"datum.value===2.5||datum.value===6.85","value":0},"value":1},"title":null,"labelFontSize":11,"tickSize":3,"labelPadding":1}},"y":{"field":"v","type":"quantitative","scale":{"domain":[0,20]},"axis":{"values":[0,5,10,15,20],"title":"AUC","labelFontSize":10,"titleFontSize":11}},"fill":{"field":"g","type":"nominal","scale":{"domain":["a","b","c","d"],"range":["#ffffff","#0000f0","#2cf02c","#f000f0"]},"legend":{"orient":"none","legendX":153,"legendY":-12,"title":null,"symbolType":"circle","symbolSize":25,"symbolStrokeColor":"#888888","symbolStrokeWidth":0.7,"labelFontSize":13,"rowPadding":6,"labelOffset":9,"labelExpr":"datum.value==='a'?'w¹¹¹⁸':datum.value==='b'?'Aβ₁₋₄₂':datum.value==='c'?'Aβ₁₋₄₂;CHK2ᴿᴺᴬⁱ':'CHK2ᴿᴺᴬⁱ'"}}}},
    {"data":{"name":"auc"},"transform":[{"filter":"datum.p==='B'"}],"mark":{"type":"rule","color":"#333333","strokeWidth":0.8},"encoding":{"x":{"field":"x","type":"quantitative"},"y":{"field":"v","type":"quantitative"},"y2":{"field":"hi"}}},
    {"data":{"name":"auc"},"transform":[{"filter":"datum.p==='B'"}],"mark":{"type":"tick","orient":"horizontal","size":6,"thickness":0.8,"color":"#333333","opacity":1},"encoding":{"x":{"field":"x","type":"quantitative"},"y":{"field":"hi","type":"quantitative"}}},
    {"data":{"name":"br"},"transform":[{"filter":"datum.p==='B'"}],"mark":{"type":"rule","color":"#888888","strokeWidth":0.8},"encoding":{"x":{"field":"x1","type":"quantitative"},"x2":{"field":"x2"},"y":{"field":"y","type":"quantitative"}}},
    {"data":{"name":"br"},"transform":[{"filter":"datum.p==='B'"}],"mark":{"type":"rule","color":"#888888","strokeWidth":0.8},"encoding":{"x":{"field":"x1","type":"quantitative"},"y":{"field":"l1","type":"quantitative"},"y2":{"field":"y"}}},
    {"data":{"name":"br"},"transform":[{"filter":"datum.p==='B'"}],"mark":{"type":"rule","color":"#888888","strokeWidth":0.8},"encoding":{"x":{"field":"x2","type":"quantitative"},"y":{"field":"l2","type":"quantitative"},"y2":{"field":"y"}}},
    {"data":{"name":"br"},"transform":[{"filter":"datum.p==='B'"}],"mark":{"type":"text","fontSize":7,"dy":-4,"color":"#333333"},"encoding":{"x":{"field":"xm","type":"quantitative"},"y":{"field":"y","type":"quantitative"},"text":{"field":"t"}}},
    {"data":{"values":[{"x":4.675}]},"mark":{"type":"rule","color":"#777777","strokeDash":[2,2],"strokeWidth":0.8},"encoding":{"x":{"field":"x","type":"quantitative"}}}
   ]},
   {"width":143,"height":106,"title":{"text":"C","color":"transparent","offset":6},"layer":[
    {"data":{"name":"auc"},"transform":[{"filter":"datum.p==='C'"}],"mark":{"type":"bar","width":11.5,"stroke":"#555555","strokeWidth":0.8,"opacity":1},"encoding":{"x":{"field":"x","type":"quantitative","scale":{"domain":[0.45,9.05]},"axis":{"values":[1,2,2.5,3,4,5.35,6.35,6.85,7.35,8.35],"labelExpr":"datum.value===2.5?'Early':datum.value===6.85?'Late':''","labelOverlap":false,"tickOpacity":{"condition":{"test":"datum.value===2.5||datum.value===6.85","value":0},"value":1},"title":null,"labelFontSize":11,"tickSize":3,"labelPadding":1}},"y":{"field":"v","type":"quantitative","scale":{"domain":[0,20]},"axis":{"values":[0,5,10,15,20],"title":"AUC","labelFontSize":10,"titleFontSize":11}},"fill":{"field":"g","type":"nominal","scale":{"domain":["a","b","c","d"],"range":["#ffffff","#0000f0","#2cf02c","#f000f0"]},"legend":{"orient":"none","legendX":153,"legendY":-5,"title":null,"symbolType":"circle","symbolSize":25,"symbolStrokeColor":"#888888","symbolStrokeWidth":0.7,"labelFontSize":13,"rowPadding":6,"labelOffset":9,"labelExpr":"datum.value==='a'?'w¹¹¹⁸':datum.value==='b'?'Aβ₁₋₄₂':datum.value==='c'?'Aβ₁₋₄₂;ATRᴿᴺᴬⁱ':'ATRᴿᴺᴬⁱ'"}}}},
    {"data":{"name":"auc"},"transform":[{"filter":"datum.p==='C'"}],"mark":{"type":"rule","color":"#333333","strokeWidth":0.8},"encoding":{"x":{"field":"x","type":"quantitative"},"y":{"field":"v","type":"quantitative"},"y2":{"field":"hi"}}},
    {"data":{"name":"auc"},"transform":[{"filter":"datum.p==='C'"}],"mark":{"type":"tick","orient":"horizontal","size":6,"thickness":0.8,"color":"#333333","opacity":1},"encoding":{"x":{"field":"x","type":"quantitative"},"y":{"field":"hi","type":"quantitative"}}},
    {"data":{"name":"br"},"transform":[{"filter":"datum.p==='C'"}],"mark":{"type":"rule","color":"#888888","strokeWidth":0.8},"encoding":{"x":{"field":"x1","type":"quantitative"},"x2":{"field":"x2"},"y":{"field":"y","type":"quantitative"}}},
    {"data":{"name":"br"},"transform":[{"filter":"datum.p==='C'"}],"mark":{"type":"rule","color":"#888888","strokeWidth":0.8},"encoding":{"x":{"field":"x1","type":"quantitative"},"y":{"field":"l1","type":"quantitative"},"y2":{"field":"y"}}},
    {"data":{"name":"br"},"transform":[{"filter":"datum.p==='C'"}],"mark":{"type":"rule","color":"#888888","strokeWidth":0.8},"encoding":{"x":{"field":"x2","type":"quantitative"},"y":{"field":"l2","type":"quantitative"},"y2":{"field":"y"}}},
    {"data":{"name":"br"},"transform":[{"filter":"datum.p==='C'"}],"mark":{"type":"text","fontSize":7,"dy":-4,"color":"#333333"},"encoding":{"x":{"field":"xm","type":"quantitative"},"y":{"field":"y","type":"quantitative"},"text":{"field":"t"}}},
    {"data":{"values":[{"x":4.675}]},"mark":{"type":"rule","color":"#777777","strokeDash":[2,2],"strokeWidth":0.8},"encoding":{"x":{"field":"x","type":"quantitative"}}}
   ]},
   {"width":143,"height":106,"title":{"text":"D","color":"transparent","offset":-4},"layer":[
    {"data":{"name":"auc"},"transform":[{"filter":"datum.p==='D'"}],"mark":{"type":"bar","width":11.5,"stroke":"#555555","strokeWidth":0.8,"opacity":1},"encoding":{"x":{"field":"x","type":"quantitative","scale":{"domain":[0.45,9.05]},"axis":{"values":[1,2,2.5,3,4,5.35,6.35,6.85,7.35,8.35],"labelExpr":"datum.value===2.5?'Early':datum.value===6.85?'Late':''","labelOverlap":false,"tickOpacity":{"condition":{"test":"datum.value===2.5||datum.value===6.85","value":0},"value":1},"title":null,"labelFontSize":11,"tickSize":3,"labelPadding":1}},"y":{"field":"v","type":"quantitative","scale":{"domain":[0,20]},"axis":{"values":[0,5,10,15,20],"title":"AUC","labelFontSize":10,"titleFontSize":11}},"fill":{"field":"g","type":"nominal","scale":{"domain":["a","b","c","d"],"range":["#ffffff","#0000f0","#2cf02c","#f000f0"]},"legend":{"orient":"none","legendX":153,"legendY":12,"title":null,"symbolType":"circle","symbolSize":25,"symbolStrokeColor":"#888888","symbolStrokeWidth":0.7,"labelFontSize":13,"rowPadding":6,"labelOffset":9,"labelExpr":"datum.value==='a'?'w¹¹¹⁸':datum.value==='b'?'Aβ₁₋₄₂':datum.value==='c'?'Aβ₁₋₄₂;Chk1ᴿᴺᴬⁱ':'Chk1ᴿᴺᴬⁱ'"}}}},
    {"data":{"name":"auc"},"transform":[{"filter":"datum.p==='D'"}],"mark":{"type":"rule","color":"#333333","strokeWidth":0.8},"encoding":{"x":{"field":"x","type":"quantitative"},"y":{"field":"v","type":"quantitative"},"y2":{"field":"hi"}}},
    {"data":{"name":"auc"},"transform":[{"filter":"datum.p==='D'"}],"mark":{"type":"tick","orient":"horizontal","size":6,"thickness":0.8,"color":"#333333","opacity":1},"encoding":{"x":{"field":"x","type":"quantitative"},"y":{"field":"hi","type":"quantitative"}}},
    {"data":{"name":"br"},"transform":[{"filter":"datum.p==='D'"}],"mark":{"type":"rule","color":"#888888","strokeWidth":0.8},"encoding":{"x":{"field":"x1","type":"quantitative"},"x2":{"field":"x2"},"y":{"field":"y","type":"quantitative"}}},
    {"data":{"name":"br"},"transform":[{"filter":"datum.p==='D'"}],"mark":{"type":"rule","color":"#888888","strokeWidth":0.8},"encoding":{"x":{"field":"x1","type":"quantitative"},"y":{"field":"l1","type":"quantitative"},"y2":{"field":"y"}}},
    {"data":{"name":"br"},"transform":[{"filter":"datum.p==='D'"}],"mark":{"type":"rule","color":"#888888","strokeWidth":0.8},"encoding":{"x":{"field":"x2","type":"quantitative"},"y":{"field":"l2","type":"quantitative"},"y2":{"field":"y"}}},
    {"data":{"name":"br"},"transform":[{"filter":"datum.p==='D'"}],"mark":{"type":"text","fontSize":7,"dy":-4,"color":"#333333"},"encoding":{"x":{"field":"xm","type":"quantitative"},"y":{"field":"y","type":"quantitative"},"text":{"field":"t"}}},
    {"data":{"values":[{"x":4.675}]},"mark":{"type":"rule","color":"#777777","strokeDash":[2,2],"strokeWidth":0.8},"encoding":{"x":{"field":"x","type":"quantitative"}}}
   ]}
  ],"spacing":30}
 ],"spacing":9},
 {"resolve":{"scale":{"color":"independent","fill":"independent","stroke":"independent"}},"vconcat":[
  {"width":163,"height":111,"title":{"text":"E","offset":13,"dx":-15},"data":{"name":"sv"},"layer":[
   {"transform":[{"filter":"datum.p==='E'||datum.p==='ctl'"}],"mark":{"type":"line","interpolate":"step-after","strokeWidth":1.4},"encoding":{"x":{"field":"d","type":"quantitative","scale":{"domain":[0,66.5]},"axis":{"values":[0,10,20,30,40,50,60],"title":"Days of expression","labelFontSize":11,"titleFontSize":12,"labelOverlap":false}},"y":{"field":"s","type":"quantitative","scale":{"domain":[0,108.8]},"axis":{"values":[0,25,50,75,100],"title":"Percent survival","labelFontSize":11,"titleFontSize":12,"labelOverlap":false,"domain":false}},"color":{"field":"g","type":"nominal","scale":{"domain":["a","b","c","d"],"range":["#000000","#3d55ff","#3fe83f","#ff2bff"]},"legend":{"orient":"none","legendX":143,"legendY":20,"title":null,"symbolType":"stroke","symbolSize":350,"symbolStrokeWidth":1.5,"labelFontSize":12,"rowPadding":0,"labelOffset":5,"labelExpr":"datum.value==='a'?'w¹¹¹⁸':datum.value==='b'?'Aβ₁₋₄₂':datum.value==='c'?'Aβ₁₋₄₂;ATMᴿᴺᴬⁱ':'ATMᴿᴺᴬⁱ'"}}}},
   {"data":{"values":[{"d":0,"s":0,"s2":100}]},"mark":{"type":"rule","color":"#000000","strokeWidth":1},"encoding":{"x":{"field":"d","type":"quantitative"},"y":{"field":"s","type":"quantitative"},"y2":{"field":"s2"}}}
  ]},
  {"width":163,"height":102,"title":{"text":"F","offset":18,"dx":-15},"data":{"name":"sv"},"transform":[{"filter":"datum.p==='F'||datum.p==='ctl'"}],"mark":{"type":"line","interpolate":"step-after","strokeWidth":1.4},"encoding":{"x":{"field":"d","type":"quantitative","scale":{"domain":[0,66.5]},"axis":{"values":[0,10,20,30,40,50,60],"title":"Days of expression","labelFontSize":11,"titleFontSize":12,"labelOverlap":false}},"y":{"field":"s","type":"quantitative","scale":{"domain":[0,100]},"axis":{"values":[0,25,50,75,100],"title":"Percent survival","labelFontSize":11,"titleFontSize":12,"labelOverlap":false}},"color":{"field":"g","type":"nominal","scale":{"domain":["a","b","c","d"],"range":["#000000","#3d55ff","#3fe83f","#ff2bff"]},"legend":{"orient":"none","legendX":143,"legendY":7,"title":null,"symbolType":"stroke","symbolSize":350,"symbolStrokeWidth":1.5,"labelFontSize":12,"rowPadding":0,"labelOffset":5,"labelExpr":"datum.value==='a'?'w¹¹¹⁸':datum.value==='b'?'Aβ₁₋₄₂':datum.value==='c'?'Aβ₁₋₄₂;Chk2ᴿᴺᴬⁱ':'Chk2ᴿᴺᴬⁱ'"}}}},
  {"width":163,"height":102,"title":{"text":"G","offset":20,"dx":-15},"data":{"name":"sv"},"transform":[{"filter":"datum.p==='G'||datum.p==='ctl'"}],"mark":{"type":"line","interpolate":"step-after","strokeWidth":1.4},"encoding":{"x":{"field":"d","type":"quantitative","scale":{"domain":[0,66.5]},"axis":{"values":[0,10,20,30,40,50,60],"title":"Days of expression","labelFontSize":11,"titleFontSize":12,"labelOverlap":false}},"y":{"field":"s","type":"quantitative","scale":{"domain":[0,100]},"axis":{"values":[0,25,50,75,100],"title":"Percent survival","labelFontSize":11,"titleFontSize":12,"labelOverlap":false}},"color":{"field":"g","type":"nominal","scale":{"domain":["a","b","c","d"],"range":["#000000","#3d55ff","#3fe83f","#ff2bff"]},"legend":{"orient":"none","legendX":143,"legendY":7,"title":null,"symbolType":"stroke","symbolSize":350,"symbolStrokeWidth":1.5,"labelFontSize":12,"rowPadding":0,"labelOffset":5,"labelExpr":"datum.value==='a'?'w¹¹¹⁸':datum.value==='b'?'Aβ₁₋₄₂':datum.value==='c'?'Aβ₁₋₄₂;ATRᴿᴺᴬⁱ':'ATRᴿᴺᴬⁱ'"}}}},
  {"width":163,"height":102,"title":{"text":"H","offset":14,"dx":-15},"data":{"name":"sv"},"transform":[{"filter":"datum.p==='H'||datum.p==='ctl'"}],"mark":{"type":"line","interpolate":"step-after","strokeWidth":1.4},"encoding":{"x":{"field":"d","type":"quantitative","scale":{"domain":[0,66.5]},"axis":{"values":[0,10,20,30,40,50,60],"title":"Days of expression","labelFontSize":11,"titleFontSize":12,"labelOverlap":false}},"y":{"field":"s","type":"quantitative","scale":{"domain":[0,100]},"axis":{"values":[0,25,50,75,100],"title":"Percent survival","labelFontSize":11,"titleFontSize":12,"labelOverlap":false}},"color":{"field":"g","type":"nominal","scale":{"domain":["a","b","c","d"],"range":["#000000","#3d55ff","#3fe83f","#ff2bff"]},"legend":{"orient":"none","legendX":143,"legendY":7,"title":null,"symbolType":"stroke","symbolSize":350,"symbolStrokeWidth":1.5,"labelFontSize":12,"rowPadding":0,"labelOffset":5,"labelExpr":"datum.value==='a'?'w¹¹¹⁸':datum.value==='b'?'Aβ₁₋₄₂':datum.value==='c'?'Aβ₁₋₄₂;Chk1ᴿᴺᴬⁱ':'Chk1ᴿᴺᴬⁱ'"}}}}
 ],"spacing":23}
],"spacing":7},
{"resolve":{"scale":{"color":"independent","fill":"independent","stroke":"independent"}},"hconcat":[
 {"resolve":{"scale":{"color":"independent","fill":"independent","stroke":"independent"}},"hconcat":[
  {"width":107,"height":107,"title":{"text":"I","offset":0,"dx":-11},"data":{"name":"pi"},"resolve":{"axis":{"x":"independent","y":"independent"}},"layer":[
   {"transform":[{"filter":"datum.p==='I'&&datum.g==='a'"}],"mark":{"type":"area","color":"#d5d5d5","opacity":1},"encoding":{"x":{"field":"d","type":"quantitative","scale":{"domain":[0,33.5]},"axis":{"values":[0,5,10,15,20,25,30],"title":"Days of expression","labelOverlap":false,"titlePadding":7}},"y":{"field":"v","type":"quantitative","scale":{"domain":[0,1.5]},"axis":{"values":[0,0.25,0.5,0.75,1,1.25,1.5],"format":".2f","title":"Performance index","labelOverlap":false}}}},
   {"transform":[{"filter":"datum.p==='I'&&datum.g==='d'"}],"mark":{"type":"area","color":"#f1bdb4","opacity":1},"encoding":{"x":{"field":"d","type":"quantitative","axis":null},"y":{"field":"v","type":"quantitative","axis":null}}},
   {"transform":[{"filter":"datum.p==='I'&&datum.g==='c'"}],"mark":{"type":"area","color":"#8dd678","opacity":1},"encoding":{"x":{"field":"d","type":"quantitative","axis":null},"y":{"field":"v","type":"quantitative","axis":null}}},
   {"transform":[{"filter":"datum.p==='I'&&datum.g==='b'"}],"mark":{"type":"area","color":"#4c7ec5","opacity":1},"encoding":{"x":{"field":"d","type":"quantitative","axis":null},"y":{"field":"v","type":"quantitative","axis":null}}},
   {"data":{"values":[{"d":22.5}]},"mark":{"type":"rule","color":"#9a9a9a","strokeWidth":0.8},"encoding":{"x":{"field":"d","type":"quantitative","axis":{"orient":"top","values":[11.2,29],"labelExpr":"datum.value<20?'Early':'Late'","domain":false,"ticks":false,"title":null,"labelFontSize":11,"labelPadding":1}}}},
   {"transform":[{"filter":"datum.p==='I'"}],"mark":{"type":"errorbar","ticks":true,"thickness":0.8},"encoding":{"x":{"field":"d","type":"quantitative","axis":null},"y":{"field":"v","type":"quantitative","axis":null},"yError":{"field":"e"},"color":{"field":"g","type":"nominal","scale":{"domain":["a","b","c","d"],"range":["#333333","#1a1ae6","#2ad42a","#e619e6"]},"legend":null}}},
   {"transform":[{"filter":"datum.p==='I'&&datum.g!=='a'"}],"mark":{"type":"point","filled":true,"size":24,"opacity":1},"encoding":{"x":{"field":"d","type":"quantitative","axis":null},"y":{"field":"v","type":"quantitative","axis":null},"color":{"field":"g","type":"nominal","legend":null}}},
   {"transform":[{"filter":"datum.p==='I'&&datum.g==='a'"}],"mark":{"type":"point","filled":true,"fill":"#ffffff","stroke":"#666666","strokeWidth":1,"size":24,"opacity":1},"encoding":{"x":{"field":"d","type":"quantitative","axis":null},"y":{"field":"v","type":"quantitative","axis":null}}}
  ]},
  {"width":143,"height":115,"layer":[
   {"data":{"name":"auc"},"transform":[{"filter":"datum.p==='I'"}],"mark":{"type":"bar","width":11.5,"stroke":"#555555","strokeWidth":0.8,"opacity":1},"encoding":{"x":{"field":"x","type":"quantitative","scale":{"domain":[0.45,9.05]},"axis":{"values":[1,2,2.5,3,4,5.35,6.35,6.85,7.35,8.35],"labelExpr":"datum.value===2.5?'Early':datum.value===6.85?'Late':''","labelOverlap":false,"tickOpacity":{"condition":{"test":"datum.value===2.5||datum.value===6.85","value":0},"value":1},"title":null,"labelFontSize":11,"tickSize":3,"labelPadding":1}},"y":{"field":"v","type":"quantitative","scale":{"domain":[0,35.94]},"axis":{"values":[0,10,20,30],"title":"AUC","labelFontSize":10,"titleFontSize":11,"domain":false}},"fill":{"field":"g","type":"nominal","scale":{"domain":["a","b","c","d"],"range":["#ffffff","#0000f0","#2cf02c","#f000f0"]},"legend":null}}},
   {"data":{"values":[{"x":0.45,"y":0,"y2":30}]},"mark":{"type":"rule","color":"#000000","strokeWidth":1},"encoding":{"x":{"field":"x","type":"quantitative"},"y":{"field":"y","type":"quantitative"},"y2":{"field":"y2"}}},
   {"data":{"name":"auc"},"transform":[{"filter":"datum.p==='I'"}],"mark":{"type":"rule","color":"#333333","strokeWidth":0.8},"encoding":{"x":{"field":"x","type":"quantitative"},"y":{"field":"v","type":"quantitative"},"y2":{"field":"hi"}}},
   {"data":{"name":"auc"},"transform":[{"filter":"datum.p==='I'"}],"mark":{"type":"tick","orient":"horizontal","size":6,"thickness":0.8,"color":"#333333","opacity":1},"encoding":{"x":{"field":"x","type":"quantitative"},"y":{"field":"hi","type":"quantitative"}}},
   {"data":{"name":"br"},"transform":[{"filter":"datum.p==='I'"}],"mark":{"type":"rule","color":"#888888","strokeWidth":0.8},"encoding":{"x":{"field":"x1","type":"quantitative"},"x2":{"field":"x2"},"y":{"field":"y","type":"quantitative"}}},
   {"data":{"name":"br"},"transform":[{"filter":"datum.p==='I'"}],"mark":{"type":"rule","color":"#888888","strokeWidth":0.8},"encoding":{"x":{"field":"x1","type":"quantitative"},"y":{"field":"l1","type":"quantitative"},"y2":{"field":"y"}}},
   {"data":{"name":"br"},"transform":[{"filter":"datum.p==='I'"}],"mark":{"type":"rule","color":"#888888","strokeWidth":0.8},"encoding":{"x":{"field":"x2","type":"quantitative"},"y":{"field":"l2","type":"quantitative"},"y2":{"field":"y"}}},
   {"data":{"name":"br"},"transform":[{"filter":"datum.p==='I'"}],"mark":{"type":"text","fontSize":7,"dy":-4,"color":"#333333"},"encoding":{"x":{"field":"xm","type":"quantitative"},"y":{"field":"y","type":"quantitative"},"text":{"field":"t"}}},
   {"data":{"values":[{"x":4.675}]},"mark":{"type":"rule","color":"#777777","strokeDash":[2,2],"strokeWidth":0.8},"encoding":{"x":{"field":"x","type":"quantitative"}}}
  ]}
 ],"spacing":9},
 {"resolve":{"scale":{"color":"independent","fill":"independent","stroke":"independent"}},"hconcat":[
  {"width":107,"height":107,"title":{"text":"J","offset":3,"dx":-4},"resolve":{"axis":{"x":"independent","y":"independent"}},"layer":[
   {"data":{"name":"reg"},"mark":{"type":"line","strokeWidth":1.5},"encoding":{"x":{"field":"d","type":"quantitative","scale":{"domain":[0,32]},"axis":{"values":[0,5,10,15,20,25,30],"title":"Days of expression","labelOverlap":false,"titlePadding":7}},"y":{"field":"v","type":"quantitative","scale":{"domain":[0,1.5]},"axis":{"values":[0,0.25,0.5,0.75,1,1.25,1.5],"format":".2f","title":"Performance index","labelOverlap":false}},"color":{"field":"g","type":"nominal","scale":{"domain":["a","b","c","d"],"range":["#000000","#1a1aff","#22cc22","#ff22ff"]},"legend":null}}},
   {"data":{"name":"pi"},"transform":[{"filter":"datum.p==='I'"}],"mark":{"type":"errorbar","ticks":true,"thickness":0.8},"encoding":{"x":{"field":"d","type":"quantitative","axis":null},"y":{"field":"v","type":"quantitative","axis":null},"yError":{"field":"e"},"color":{"field":"g","type":"nominal","legend":null}}},
   {"data":{"name":"pi"},"transform":[{"filter":"datum.p==='I'&&datum.g!=='a'"}],"mark":{"type":"point","filled":true,"size":24,"opacity":1},"encoding":{"x":{"field":"d","type":"quantitative","axis":null},"y":{"field":"v","type":"quantitative","axis":null},"color":{"field":"g","type":"nominal","legend":null}}},
   {"data":{"name":"pi"},"transform":[{"filter":"datum.p==='I'&&datum.g==='a'"}],"mark":{"type":"point","filled":true,"fill":"#ffffff","stroke":"#666666","strokeWidth":1,"size":24,"opacity":1},"encoding":{"x":{"field":"d","type":"quantitative","axis":null},"y":{"field":"v","type":"quantitative","axis":null}}}
  ]},
  {"width":63,"height":101,"resolve":{"axis":{"x":"independent","y":"independent"}},"layer":[
   {"data":{"name":"rate"},"mark":{"type":"bar","width":9,"strokeWidth":0.8,"opacity":1},"encoding":{"x":{"field":"x","type":"quantitative","scale":{"domain":[0.086,4.586]},"axis":{"orient":"top","values":[1,2,3,4],"labels":false,"title":null,"tickSize":3,"offset":-12}},"y":{"field":"v","type":"quantitative","scale":{"domain":[-0.04,0.0054]},"axis":{"values":[0,-0.01,-0.02,-0.03,-0.04],"format":".2f","title":"Rate of decline (ΔPI/day)","labelFontSize":11,"titleFontSize":11,"labelOverlap":false,"domain":false}},"fill":{"field":"g","type":"nominal","scale":{"domain":["a","b","c","d"],"range":["#000000","#0000f0","#11c811","#f000f0"]},"legend":{"orient":"none","legendX":70,"legendY":15,"title":null,"symbolType":"M-1,0H-0.4M0.4,0H1M0.4,0A0.4,0.4,0,1,1,-0.4,0A0.4,0.4,0,1,1,0.4,0","symbolSize":400,"symbolStrokeWidth":1.3,"labelFontSize":12,"rowPadding":1,"labelOffset":5,"labelExpr":"datum.value==='a'?'w¹¹¹⁸':datum.value==='b'?'Aβ₁₋₄₂':datum.value==='c'?'Aβ₁₋₄₂;PARPᴿᴺᴬⁱ':'PARPᴿᴺᴬⁱ'"}},"stroke":{"field":"g","type":"nominal","scale":{"domain":["a","b","c","d"],"range":["#000000","#0000f0","#11c811","#f000f0"]},"legend":{"orient":"none","legendX":70,"legendY":15,"title":null,"symbolType":"M-1,0H-0.4M0.4,0H1M0.4,0A0.4,0.4,0,1,1,-0.4,0A0.4,0.4,0,1,1,0.4,0","symbolSize":400,"symbolStrokeWidth":1.3,"labelFontSize":12,"rowPadding":1,"labelOffset":5,"labelExpr":"datum.value==='a'?'w¹¹¹⁸':datum.value==='b'?'Aβ₁₋₄₂':datum.value==='c'?'Aβ₁₋₄₂;PARPᴿᴺᴬⁱ':'PARPᴿᴺᴬⁱ'"}}}},
   {"data":{"values":[{"x":0.086,"y":-0.04,"y2":0}]},"mark":{"type":"rule","color":"#000000","strokeWidth":1},"encoding":{"x":{"field":"x","type":"quantitative","axis":null},"y":{"field":"y","type":"quantitative","axis":null},"y2":{"field":"y2"}}},
   {"data":{"name":"rate"},"mark":{"type":"rule","color":"#333333","strokeWidth":0.8},"encoding":{"x":{"field":"x","type":"quantitative","axis":null},"y":{"field":"v","type":"quantitative","axis":null},"y2":{"field":"lo"}}},
   {"data":{"name":"rate"},"mark":{"type":"tick","orient":"horizontal","size":6,"thickness":0.8,"color":"#333333","opacity":1},"encoding":{"x":{"field":"x","type":"quantitative","axis":null},"y":{"field":"lo","type":"quantitative","axis":null}}},
   {"data":{"values":[{"x":0.96,"x2":3.94,"y":-0.0387}]},"mark":{"type":"rule","color":"#999999","strokeWidth":0.8},"encoding":{"x":{"field":"x","type":"quantitative","axis":null},"x2":{"field":"x2"},"y":{"field":"y","type":"quantitative","axis":null}}},
   {"data":{"values":[{"x":0.96,"y":-0.0387,"y2":-0.0205},{"x":3.94,"y":-0.0387,"y2":-0.0212},{"x":1.87,"y":-0.0387,"y2":-0.0336},{"x":2.99,"y":-0.0387,"y2":-0.0336}]},"mark":{"type":"rule","color":"#999999","strokeWidth":1},"encoding":{"x":{"field":"x","type":"quantitative","axis":null},"y":{"field":"y","type":"quantitative","axis":null},"y2":{"field":"y2"}}},
   {"data":{"values":[{"x":1.45,"y":-0.0387,"t":"*"},{"x":2.42,"y":-0.0387,"t":"N/S"},{"x":3.5,"y":-0.0387,"t":"**"}]},"mark":{"type":"text","fontSize":9,"baseline":"top","dy":1,"color":"#000000"},"encoding":{"x":{"field":"x","type":"quantitative","axis":null},"y":{"field":"y","type":"quantitative","axis":null},"text":{"field":"t"}}}
  ]}
 ],"spacing":14}
],"spacing":25}
],
"spacing":12,
"config":{
 "font":"Liberation Sans",
 "view":{"stroke":null},
 "axis":{"grid":false,"domainColor":"#000000","tickColor":"#000000","labelColor":"#000000","titleColor":"#000000","titleFontWeight":"normal","tickSize":4,"labelFontSize":12.5,"titleFontSize":13,"labelPadding":2,"titlePadding":4,"labelFont":"Liberation Sans","titleFont":"Liberation Sans"},
 "legend":{"labelFont":"Liberation Sans","labelColor":"#000000"},
 "title":{"fontSize":17,"fontWeight":"bold","anchor":"start","frame":"bounds","color":"#000000","font":"Liberation Sans"}
}
}
